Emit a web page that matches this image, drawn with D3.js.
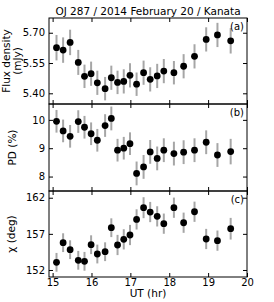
<!DOCTYPE html>
<html>
<head>
<meta charset="utf-8">
<script src="https://cdn.jsdelivr.net/npm/d3@7"></script>
<style>
  body { margin: 0; background: #fff; }
  svg { display: block; font-family: "DejaVu Sans", sans-serif; }
</style>
</head>
<body>
<div id="chart"></div>
<script>
// observation times (UT hours)
const times = [15.10, 15.27, 15.45, 15.66, 15.82, 15.99, 16.15, 16.35, 16.51, 16.67, 16.83, 16.99,
               17.16, 17.34, 17.51, 17.69, 17.86, 18.12, 18.37, 18.65, 18.95, 19.24, 19.58];

// (a) flux density, mJy
const flux    = [5.626, 5.614, 5.652, 5.553, 5.484, 5.497, 5.452, 5.423, 5.477, 5.454, 5.459, 5.489,
                 5.445, 5.502, 5.469, 5.486, 5.510, 5.502, 5.534, 5.583, 5.667, 5.689, 5.660];
const fluxErr = [0.063, 0.063, 0.063, 0.062, 0.058, 0.060, 0.060, 0.058, 0.060, 0.058, 0.060, 0.060,
                 0.058, 0.060, 0.060, 0.060, 0.060, 0.058, 0.060, 0.060, 0.060, 0.060, 0.063];

// (b) polarization degree, %
const pd    = [9.95, 9.61, 9.42, 9.94, 9.74, 9.51, 9.28, 9.80, 10.05, 8.93, 9.00, 9.16,
               8.11, 8.34, 8.87, 8.64, 8.93, 8.81, 8.86, 8.93, 9.21, 8.76, 8.88];
const pdErr = [0.40, 0.40, 0.40, 0.40, 0.40, 0.40, 0.40, 0.40, 0.42, 0.40, 0.40, 0.40,
               0.42, 0.42, 0.42, 0.42, 0.42, 0.42, 0.42, 0.42, 0.42, 0.42, 0.45];

// (c) polarization angle, deg
const chi    = [153.06, 155.78, 154.81, 153.34, 153.20, 155.50, 154.21, 154.53, 157.85, 155.46, 156.24, 156.84,
                159.00, 160.62, 160.02, 159.42, 158.41, 160.62, 158.54, 160.06, 156.29, 156.06, 157.71];
const chiErr = [1.30, 1.30, 1.30, 1.30, 1.30, 1.30, 1.30, 1.30, 1.30, 1.40, 1.40, 1.40,
                1.40, 1.45, 1.40, 1.40, 1.40, 1.40, 1.40, 1.40, 1.40, 1.40, 1.50];

const xTicks = [15, 16, 17, 18, 19, 20];

const panels = [
  { vals: flux, errs: fluxErr, domain: [5.347, 5.773], ticks: [5.40, 5.55, 5.70], fmt: d3.format(".2f"),
    label: ["Flux density", "(mJy)"], labelX: [10, 21], tag: "(a)", top: 18, bottom: 104 },
  { vals: pd, errs: pdErr, domain: [7.49, 10.56], ticks: [8, 9, 10], fmt: d3.format("d"),
    label: ["PD (%)"], labelX: [16], tag: "(b)", top: 104, bottom: 191 },
  { vals: chi, errs: chiErr, domain: [151.03, 162.93], ticks: [152, 157, 162], fmt: d3.format("d"),
    label: ["\u03c7 (deg)"], labelX: [15], tag: "(c)", top: 191, bottom: 277 }
];

const width = 274, height = 302;
const left = 49, right = 247;

const svg = d3.select("#chart").append("svg")
  .attr("width", width)
  .attr("height", height);

const x = d3.scaleLinear().domain([14.907, 20]).range([left, right]);

svg.append("text")
  .attr("x", (left + right) / 2)
  .attr("y", 15)
  .attr("text-anchor", "middle")
  .attr("font-size", 10.5)
  .text("OJ 287 / 2014 February 20 / Kanata");

panels.forEach(function(p, k) {
  const y = d3.scaleLinear().domain(p.domain).range([p.bottom, p.top]);
  const g = svg.append("g");

  // ticks inward on all four sides
  const tick = 4;
  const addAxis = function(axis, tx, ty, labels) {
    const a = g.append("g")
      .attr("transform", `translate(${tx},${ty})`)
      .call(axis);
    a.select(".domain").remove();
    a.selectAll(".tick line").attr("stroke", "#000");
    a.selectAll("text").attr("font-size", 10).attr("fill", "#000").attr("font-family", "DejaVu Sans");
    if (!labels) a.selectAll("text").remove();
    return a;
  };

  addAxis(d3.axisLeft(y).tickValues(p.ticks).tickFormat(p.fmt).tickSizeInner(-tick).tickPadding(4), left, 0, true);
  addAxis(d3.axisRight(y).tickValues(p.ticks).tickSizeInner(-tick), right, 0, false);
  addAxis(d3.axisBottom(x).tickValues(xTicks).tickFormat(d3.format("d")).tickSizeInner(-tick).tickPadding(2), 0, p.bottom, k === 2);
  addAxis(d3.axisTop(x).tickValues(xTicks).tickSizeInner(-tick), 0, p.top, false);

  // error bars
  g.selectAll(".err")
    .data(times)
    .join("line")
    .attr("x1", d => x(d))
    .attr("x2", d => x(d))
    .attr("y1", (d, i) => y(p.vals[i] - p.errs[i]))
    .attr("y2", (d, i) => y(p.vals[i] + p.errs[i]))
    .attr("stroke", "#a6a6a6")
    .attr("stroke-width", 2);

  g.selectAll(".pt")
    .data(times)
    .join("circle")
    .attr("cx", d => x(d))
    .attr("cy", (d, i) => y(p.vals[i]))
    .attr("r", 3.4)
    .attr("fill", "#000");

  // frame
  g.append("rect")
    .attr("x", left)
    .attr("y", p.top)
    .attr("width", right - left)
    .attr("height", p.bottom - p.top)
    .attr("fill", "none")
    .attr("stroke", "#000")
    .attr("stroke-width", 1);

  g.append("text")
    .attr("x", right - 3)
    .attr("y", p.top + 12)
    .attr("text-anchor", "end")
    .attr("font-size", 10)
    .text(p.tag);

  const cy = (p.top + p.bottom) / 2;
  p.label.forEach(function(t, j) {
    g.append("text")
      .attr("transform", `translate(${p.labelX[j]},${cy}) rotate(-90)`)
      .attr("text-anchor", "middle")
      .attr("font-size", 10.5)
      .text(t);
  });
});

svg.append("text")
  .attr("x", (left + right) / 2)
  .attr("y", 297)
  .attr("text-anchor", "middle")
  .attr("font-size", 10.5)
  .text("UT (hr)");
</script>
</body>
</html>
